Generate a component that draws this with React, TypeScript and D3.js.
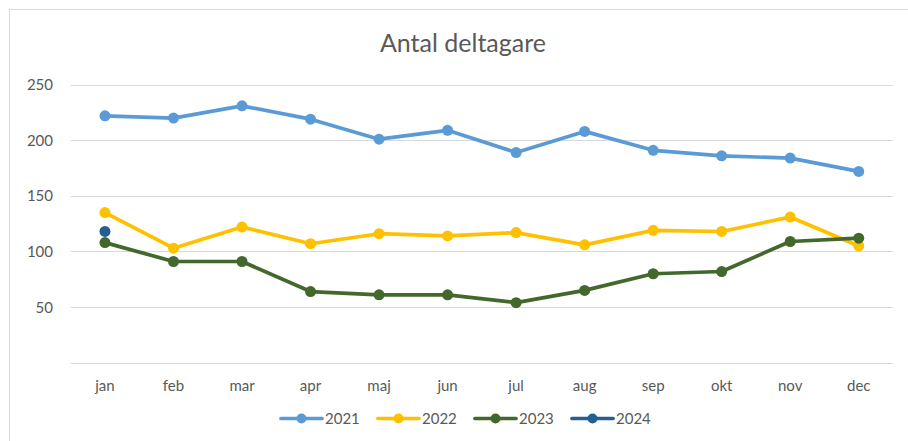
import React, { useEffect, useRef } from 'react';
import * as d3 from 'd3';

const months = ['jan', 'feb', 'mar', 'apr', 'maj', 'jun', 'jul', 'aug', 'sep', 'okt', 'nov', 'dec'];
const yTicks = [50, 100, 150, 200, 250];

const s2021 = [222, 220, 231, 219, 201, 209, 189, 208, 191, 186, 184, 172];
const s2022 = [135, 103, 122, 107, 116, 114, 117, 106, 119, 118, 131, 105];
const s2023 = [108, 91, 91, 64, 61, 61, 54, 65, 80, 82, 109, 112];
const s2024 = [118];

const seriesNames = ['2021', '2022', '2023', '2024'];
const seriesColors = ['#5B9BD5', '#FFC000', '#43682B', '#255E91'];

const W = 908;
const H = 441;

export default function App() {
  const ref = useRef<SVGSVGElement>(null);

  useEffect(() => {
    const svg = d3.select(ref.current);
    svg.selectAll('*').remove();
    const font = 'Lato, "Open Sans", sans-serif';
    const textColor = '#595959';

    // chart border (cropped at right and bottom)
    svg
      .append('rect')
      .attr('x', 9.5)
      .attr('y', 9.5)
      .attr('width', W + 20)
      .attr('height', H + 20)
      .attr('fill', '#fff')
      .attr('stroke', '#D9D9D9')
      .attr('stroke-width', 1);

    const x = d3.scaleBand<string>().domain(months).range([70.7, 893]);
    const y = d3.scaleLinear().domain([0, 250]).range([362.7, 84.7]);

    svg
      .append('text')
      .attr('x', 463)
      .attr('y', 52)
      .attr('text-anchor', 'middle')
      .attr('font-family', font)
      .attr('font-size', 25)
      .attr('fill', textColor)
      .text('Antal deltagare');

    // gridlines
    svg
      .append('g')
      .selectAll('line')
      .data([0, ...yTicks])
      .enter()
      .append('line')
      .attr('x1', 70.7)
      .attr('x2', 893)
      .attr('y1', (d) => Math.round(y(d)) + 0.5)
      .attr('y2', (d) => Math.round(y(d)) + 0.5)
      .attr('stroke', '#D9D9D9')
      .attr('stroke-width', 1);

    svg
      .append('g')
      .selectAll('text')
      .data(yTicks)
      .enter()
      .append('text')
      .attr('x', 53)
      .attr('y', (d) => y(d) + 5.5)
      .attr('text-anchor', 'end')
      .attr('font-family', font)
      .attr('font-size', 15)
      .attr('fill', textColor)
      .text((d) => d);

    svg
      .append('g')
      .selectAll('text')
      .data(months)
      .enter()
      .append('text')
      .attr('x', (d) => x(d)! + x.bandwidth() / 2)
      .attr('y', 391)
      .attr('text-anchor', 'middle')
      .attr('font-family', font)
      .attr('font-size', 15)
      .attr('fill', textColor)
      .text((d) => d);

    const allSeries = [s2021, s2022, s2023, s2024];
    const line = d3
      .line<number>()
      .x((_, i) => x(months[i])! + x.bandwidth() / 2)
      .y((d) => y(d));

    allSeries.forEach((vals, si) => {
      const g = svg.append('g');
      g.append('path')
        .attr('d', line(vals))
        .attr('fill', 'none')
        .attr('stroke', seriesColors[si])
        .attr('stroke-width', 3.7)
        .attr('stroke-linejoin', 'round');
      g.selectAll('circle')
        .data(vals)
        .enter()
        .append('circle')
        .attr('cx', (_, i) => x(months[i])! + x.bandwidth() / 2)
        .attr('cy', (d) => y(d))
        .attr('r', 5.5)
        .attr('fill', seriesColors[si]);
    });

    // legend
    const legend = svg.append('g').attr('transform', 'translate(281,418.5)');
    seriesNames.forEach((name, i) => {
      const g = legend.append('g').attr('transform', `translate(${i * 97},0)`);
      g.append('line')
        .attr('x1', 0)
        .attr('x2', 41)
        .attr('y1', 0)
        .attr('y2', 0)
        .attr('stroke', seriesColors[i])
        .attr('stroke-width', 3.7)
        .attr('stroke-linecap', 'round');
      g.append('circle').attr('cx', 20.5).attr('cy', 0).attr('r', 5).attr('fill', seriesColors[i]);
      g.append('text')
        .attr('x', 44)
        .attr('y', 5.5)
        .attr('font-family', font)
        .attr('font-size', 15)
        .attr('fill', textColor)
        .text(name);
    });
  }, []);

  return (
    <div style={{ position: 'absolute', left: 0, top: 0 }}>
      <svg ref={ref} width={W} height={H} style={{ display: 'block' }} />
    </div>
  );
}
